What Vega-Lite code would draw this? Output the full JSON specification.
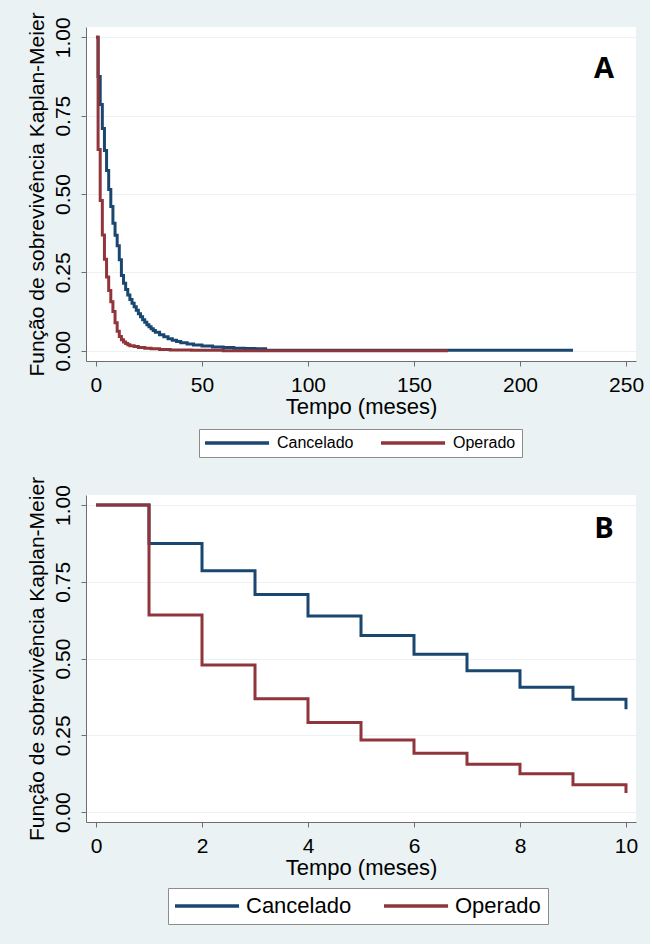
{
  "$schema": "https://vega.github.io/schema/vega-lite/v6.json",
  "background": "#EAF2F3",
  "padding": {"left": 25, "top": 11, "right": 6, "bottom": 20},
  "spacing": 18,
  "bounds": "full",
  "datasets": {
    "km_a": [
      {"t": 0, "s": 1.0, "g": "Cancelado"},
      {"t": 1, "s": 0.875, "g": "Cancelado"},
      {"t": 2, "s": 0.786, "g": "Cancelado"},
      {"t": 3, "s": 0.709, "g": "Cancelado"},
      {"t": 4, "s": 0.639, "g": "Cancelado"},
      {"t": 5, "s": 0.575, "g": "Cancelado"},
      {"t": 6, "s": 0.514, "g": "Cancelado"},
      {"t": 7, "s": 0.46, "g": "Cancelado"},
      {"t": 8, "s": 0.407, "g": "Cancelado"},
      {"t": 9, "s": 0.368, "g": "Cancelado"},
      {"t": 10, "s": 0.335, "g": "Cancelado"},
      {"t": 11, "s": 0.29, "g": "Cancelado"},
      {"t": 12, "s": 0.24, "g": "Cancelado"},
      {"t": 13, "s": 0.215, "g": "Cancelado"},
      {"t": 14, "s": 0.195, "g": "Cancelado"},
      {"t": 15, "s": 0.178, "g": "Cancelado"},
      {"t": 16, "s": 0.163, "g": "Cancelado"},
      {"t": 17, "s": 0.151, "g": "Cancelado"},
      {"t": 18, "s": 0.14, "g": "Cancelado"},
      {"t": 19, "s": 0.129, "g": "Cancelado"},
      {"t": 20, "s": 0.118, "g": "Cancelado"},
      {"t": 21, "s": 0.108, "g": "Cancelado"},
      {"t": 22, "s": 0.099, "g": "Cancelado"},
      {"t": 23, "s": 0.091, "g": "Cancelado"},
      {"t": 24, "s": 0.083, "g": "Cancelado"},
      {"t": 25, "s": 0.076, "g": "Cancelado"},
      {"t": 26, "s": 0.07, "g": "Cancelado"},
      {"t": 27, "s": 0.064, "g": "Cancelado"},
      {"t": 28, "s": 0.059, "g": "Cancelado"},
      {"t": 30, "s": 0.051, "g": "Cancelado"},
      {"t": 32, "s": 0.044, "g": "Cancelado"},
      {"t": 34, "s": 0.038, "g": "Cancelado"},
      {"t": 36, "s": 0.033, "g": "Cancelado"},
      {"t": 38, "s": 0.029, "g": "Cancelado"},
      {"t": 40, "s": 0.025, "g": "Cancelado"},
      {"t": 43, "s": 0.021, "g": "Cancelado"},
      {"t": 46, "s": 0.018, "g": "Cancelado"},
      {"t": 50, "s": 0.015, "g": "Cancelado"},
      {"t": 55, "s": 0.012, "g": "Cancelado"},
      {"t": 60, "s": 0.01, "g": "Cancelado"},
      {"t": 65, "s": 0.008, "g": "Cancelado"},
      {"t": 70, "s": 0.007, "g": "Cancelado"},
      {"t": 75, "s": 0.006, "g": "Cancelado"},
      {"t": 80, "s": 0.001, "g": "Cancelado"},
      {"t": 225, "s": 0.001, "g": "Cancelado"},
      {"t": 0, "s": 1.0, "g": "Operado"},
      {"t": 1, "s": 0.642, "g": "Operado"},
      {"t": 2, "s": 0.479, "g": "Operado"},
      {"t": 3, "s": 0.369, "g": "Operado"},
      {"t": 4, "s": 0.292, "g": "Operado"},
      {"t": 5, "s": 0.235, "g": "Operado"},
      {"t": 6, "s": 0.192, "g": "Operado"},
      {"t": 7, "s": 0.156, "g": "Operado"},
      {"t": 8, "s": 0.125, "g": "Operado"},
      {"t": 9, "s": 0.089, "g": "Operado"},
      {"t": 10, "s": 0.062, "g": "Operado"},
      {"t": 11, "s": 0.045, "g": "Operado"},
      {"t": 12, "s": 0.035, "g": "Operado"},
      {"t": 13, "s": 0.028, "g": "Operado"},
      {"t": 14, "s": 0.023, "g": "Operado"},
      {"t": 15, "s": 0.019, "g": "Operado"},
      {"t": 16, "s": 0.016, "g": "Operado"},
      {"t": 18, "s": 0.013, "g": "Operado"},
      {"t": 20, "s": 0.01, "g": "Operado"},
      {"t": 23, "s": 0.008, "g": "Operado"},
      {"t": 26, "s": 0.006, "g": "Operado"},
      {"t": 30, "s": 0.004, "g": "Operado"},
      {"t": 35, "s": 0.002, "g": "Operado"},
      {"t": 45, "s": 0.001, "g": "Operado"},
      {"t": 60, "s": 0.0, "g": "Operado"},
      {"t": 166, "s": 0.0, "g": "Operado"}
    ],
    "km_b": [
      {"t": 0, "s": 1.0, "g": "Cancelado"},
      {"t": 1, "s": 0.875, "g": "Cancelado"},
      {"t": 2, "s": 0.786, "g": "Cancelado"},
      {"t": 3, "s": 0.709, "g": "Cancelado"},
      {"t": 4, "s": 0.639, "g": "Cancelado"},
      {"t": 5, "s": 0.575, "g": "Cancelado"},
      {"t": 6, "s": 0.514, "g": "Cancelado"},
      {"t": 7, "s": 0.46, "g": "Cancelado"},
      {"t": 8, "s": 0.407, "g": "Cancelado"},
      {"t": 9, "s": 0.368, "g": "Cancelado"},
      {"t": 10, "s": 0.335, "g": "Cancelado"},
      {"t": 0, "s": 1.0, "g": "Operado"},
      {"t": 1, "s": 0.642, "g": "Operado"},
      {"t": 2, "s": 0.479, "g": "Operado"},
      {"t": 3, "s": 0.369, "g": "Operado"},
      {"t": 4, "s": 0.292, "g": "Operado"},
      {"t": 5, "s": 0.235, "g": "Operado"},
      {"t": 6, "s": 0.192, "g": "Operado"},
      {"t": 7, "s": 0.156, "g": "Operado"},
      {"t": 8, "s": 0.125, "g": "Operado"},
      {"t": 9, "s": 0.089, "g": "Operado"},
      {"t": 10, "s": 0.062, "g": "Operado"}
    ],
    "label_a": [{"t": 239.6, "s": 0.87, "label": "A"}],
    "label_b": [{"t": 9.585, "s": 0.893, "label": "B"}]
  },
  "config": {
    "font": "Liberation Sans",
    "view": {"fill": "white", "stroke": null},
    "axis": {
      "domainColor": "#6e6e6e",
      "tickColor": "#6e6e6e",
      "gridColor": "#EAF2F3",
      "gridWidth": 1.2,
      "labelColor": "black",
      "titleColor": "black",
      "labelFont": "Liberation Sans",
      "titleFont": "Liberation Sans",
      "labelFontSize": 21,
      "titleFontWeight": "normal",
      "tickSize": 5,
      "domainWidth": 1
    },
    "legend": {
      "orient": "none",
      "direction": "horizontal",
      "symbolSize": 114,
      "symbolStrokeWidth": 3.5,
      "strokeColor": "#8c8c8c",
      "fillColor": "white",
      "labelColor": "black",
      "labelFont": "Liberation Sans"
    }
  },
  "resolve": {"scale": {"color": "independent"}, "legend": {"color": "independent"}},
  "vconcat": [
    {
      "width": 550,
      "height": 334,
      "layer": [
        {
          "data": {"name": "km_a"},
          "mark": {"type": "line", "interpolate": "step-after", "strokeWidth": 3},
          "encoding": {
            "x": {"field": "t", "type": "quantitative",
              "scale": {"domain": [-4.7, 254.7], "nice": false, "zero": false},
              "axis": {"values": [0, 50, 100, 150, 200, 250], "title": "Tempo (meses)", "grid": false, "labelFlush": false, "labelPadding": 8, "titleFontSize": 22, "titlePadding": 1}},
            "y": {"field": "s", "type": "quantitative",
              "scale": {"domain": [-0.033, 1.033], "nice": false, "zero": false},
              "axis": {"values": [0, 0.25, 0.5, 0.75, 1], "format": ".2f", "labelAngle": -90, "labelAlign": "center", "labelBaseline": "alphabetic", "labelPadding": 12, "title": "Função de sobrevivência Kaplan-Meier", "titleFontSize": 21, "titlePadding": 5, "grid": true}},
            "color": {"field": "g", "type": "nominal",
              "scale": {"domain": ["Cancelado", "Operado"], "range": ["#1A476F", "#90353B"]},
              "legend": {"title": null, "legendX": 113, "legendY": 402, "symbolType": "M-1.5,0H10.5", "labelFontSize": 16, "labelOffset": 56, "columnPadding": 19, "padding": 6}}
          }
        },
        {
          "data": {"name": "label_a"},
          "mark": {"type": "text", "font": "Open Sans", "fontWeight": "bold", "fontSize": 29, "baseline": "alphabetic", "align": "center", "color": "black"},
          "encoding": {
            "x": {"field": "t", "type": "quantitative"},
            "y": {"field": "s", "type": "quantitative"},
            "text": {"field": "label"}
          }
        }
      ]
    },
    {
      "width": 550,
      "height": 327,
      "layer": [
        {
          "data": {"name": "km_b"},
          "mark": {"type": "line", "interpolate": "step-after", "strokeWidth": 3},
          "encoding": {
            "x": {"field": "t", "type": "quantitative",
              "scale": {"domain": [-0.189, 10.189], "nice": false, "zero": false},
              "axis": {"values": [0, 2, 4, 6, 8, 10], "title": "Tempo (meses)", "grid": false, "labelFlush": false, "labelPadding": 8, "titleFontSize": 22, "titlePadding": 1}},
            "y": {"field": "s", "type": "quantitative",
              "scale": {"domain": [-0.032, 1.0325], "nice": false, "zero": false},
              "axis": {"values": [0, 0.25, 0.5, 0.75, 1], "format": ".2f", "labelAngle": -90, "labelAlign": "center", "labelBaseline": "alphabetic", "labelPadding": 12, "title": "Função de sobrevivência Kaplan-Meier", "titleFontSize": 21, "titlePadding": 5, "grid": true}},
            "color": {"field": "g", "type": "nominal",
              "scale": {"domain": ["Cancelado", "Operado"], "range": ["#1A476F", "#90353B"]},
              "legend": {"title": null, "legendX": 82, "legendY": 393, "symbolType": "M-2.06,0H9.94", "labelFontSize": 22, "labelOffset": 49, "columnPadding": 25, "padding": 7}}
          }
        },
        {
          "data": {"name": "label_b"},
          "mark": {"type": "text", "font": "Open Sans", "fontWeight": "bold", "fontSize": 29, "baseline": "alphabetic", "align": "center", "color": "black"},
          "encoding": {
            "x": {"field": "t", "type": "quantitative"},
            "y": {"field": "s", "type": "quantitative"},
            "text": {"field": "label"}
          }
        }
      ]
    }
  ]
}
